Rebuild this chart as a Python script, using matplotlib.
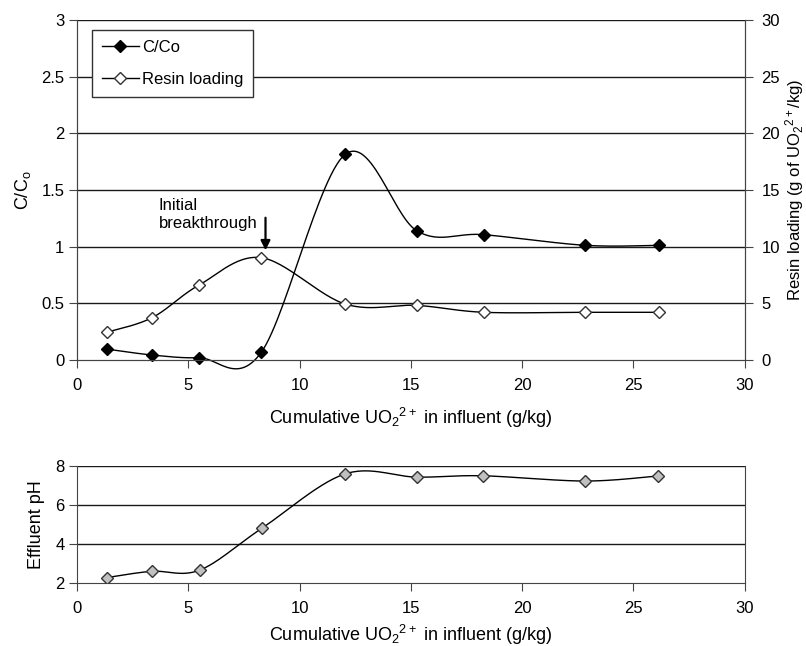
import numpy as np
import matplotlib
matplotlib.use('Agg')
import matplotlib.pyplot as plt

plt.rcParams['font.family'] = ['Liberation Sans', 'DejaVu Sans']
plt.rcParams['font.size'] = 12
plt.rcParams['mathtext.default'] = 'regular'

# data
x_top = [1.33, 3.38, 5.49, 8.28, 12.05, 15.27, 18.29, 22.84, 26.15]
c_co = [0.097, 0.044, 0.02, 0.068, 1.815, 1.14, 1.106, 1.012, 1.012]
resin = [2.44, 3.74, 6.62, 9.03, 4.94, 4.82, 4.21, 4.21, 4.21]

x_ph = [1.35, 3.35, 5.51, 8.31, 12.03, 15.28, 18.22, 22.82, 26.1]
ph = [2.28, 2.6, 2.66, 4.81, 7.59, 7.43, 7.5, 7.23, 7.49]

XLABEL = 'Cumulative UO$_2$$^{2+}$ in influent (g/kg)'


def smooth(x, y, sx, sy, n=30):
    """Excel-like smoothed line (Bezier through points, screen-ish units)."""
    p = np.column_stack([np.asarray(x) * sx, np.asarray(y) * sy])
    p = np.vstack([p[0], p, p[-1]])
    out = []
    t = np.linspace(0, 1, n)[:, None]
    for i in range(1, len(p) - 2):
        p0, p1, p2, p3 = p[i - 1], p[i], p[i + 1], p[i + 2]
        c1 = p1 + (p2 - p0) / 6
        c2 = p2 - (p3 - p1) / 6
        seg = ((1 - t) ** 3) * p1 + 3 * ((1 - t) ** 2) * t * c1 \
            + 3 * (1 - t) * t ** 2 * c2 + t ** 3 * p2
        out.append(seg)
    out = np.vstack(out)
    return out[:, 0] / sx, out[:, 1] / sy


fig = plt.figure(figsize=(8.06, 6.46), dpi=100)
ax = fig.add_axes([0.0955, 0.4427, 0.8285, 0.5263])
ax2 = ax.twinx()

grid_c = '#1a1a1a'
for v in [0.5, 1, 1.5, 2, 2.5, 3]:
    ax.axhline(v, color=grid_c, lw=1, zorder=0)

# C/Co
sx, sy = 668 / 30, 340 / 3
xs, ys = smooth(x_top, c_co, sx, sy)
ax.plot(xs, ys, color='black', lw=1, zorder=2, clip_on=False)
ax.plot(x_top, c_co, 'D', color='black', ms=6, zorder=3, clip_on=False)

# resin loading on right axis
xs, ys = smooth(x_top, resin, sx, sy / 10)
ax2.plot(xs, ys, color='black', lw=1, zorder=2)
ax2.plot(x_top, resin, 'D', mfc='white', mec='#333333', mew=1, ms=6, zorder=3)

ax.set_xlim(0, 30)
ax.set_ylim(0, 3)
ax2.set_ylim(0, 30)
ax.set_xticks(range(0, 31, 5))
ax.set_yticks([0, 0.5, 1, 1.5, 2, 2.5, 3])
ax.set_yticklabels(['0', '0.5', '1', '1.5', '2', '2.5', '3'])
ax2.set_yticks(range(0, 31, 5))
ax.tick_params(axis='x', direction='out', length=6, pad=7, color='#444444')
ax.tick_params(axis='y', direction='out', length=6, pad=3, color='#444444')
ax2.tick_params(direction='out', length=6, pad=6, color='#444444')
for a in (ax, ax2):
    a.spines['top'].set_visible(False)
    for s in ('left', 'right', 'bottom'):
        a.spines[s].set_color('#444444')
ax.set_xlabel(XLABEL, fontsize=13, labelpad=9)
ax.set_ylabel('C/C$_o$', fontsize=13, labelpad=6)
ax2.set_ylabel('Resin loading (g of UO$_2$$^{2+}$/kg)', fontsize=12, labelpad=2)

# legend
h1 = ax.plot([], [], '-D', color='black', lw=1, ms=6)[0]
h2 = ax.plot([], [], '-D', color='black', lw=1, mfc='white', mec='#333333', ms=6)[0]
leg = ax.legend([h1, h2], ['C/Co', 'Resin loading'], loc='upper left',
                bbox_to_anchor=(0.0225, 0.97), borderaxespad=0,
                fancybox=False, framealpha=1, edgecolor='#333333',
                fontsize=12, handlelength=2.2, labelspacing=1.0,
                borderpad=0.6, handletextpad=0.2)
leg.get_frame().set_linewidth(1)
leg.set_zorder(5)

ax.annotate('', xy=(8.47, 0.944), xytext=(8.47, 1.28),
            arrowprops=dict(arrowstyle='-|>', color='black', lw=1.6,
                            mutation_scale=14), zorder=4)
ax.text(3.68, 1.43, 'Initial\nbreakthrough', ha='left', va='top',
        fontsize=12, linespacing=1.25)

# pH panel
bx = fig.add_axes([0.0955, 0.0975, 0.8285, 0.1811])
for v in [4, 6, 8]:
    bx.axhline(v, color=grid_c, lw=1, zorder=0)
xs, ys = smooth(x_ph, ph, 668 / 30, 117 / 6)
bx.plot(xs, ys, color='black', lw=1, zorder=2)
bx.plot(x_ph, ph, 'D', mfc='#c0c0c0', mec='#333333', mew=1, ms=6, zorder=3)
bx.set_xlim(0, 30)
bx.set_ylim(2, 8)
bx.set_xticks(range(0, 31, 5))
bx.set_yticks([2, 4, 6, 8])
bx.tick_params(axis='x', direction='out', length=6, pad=7, color='#444444')
bx.tick_params(axis='y', direction='out', length=6, pad=3, color='#444444')
bx.spines['top'].set_visible(False)
for s in ('left', 'right', 'bottom'):
    bx.spines[s].set_color('#444444')
bx.set_xlabel(XLABEL, fontsize=13, labelpad=5)
bx.set_ylabel('Effluent pH', fontsize=13, labelpad=7)

fig.savefig('out.png', dpi=100, facecolor='white')
